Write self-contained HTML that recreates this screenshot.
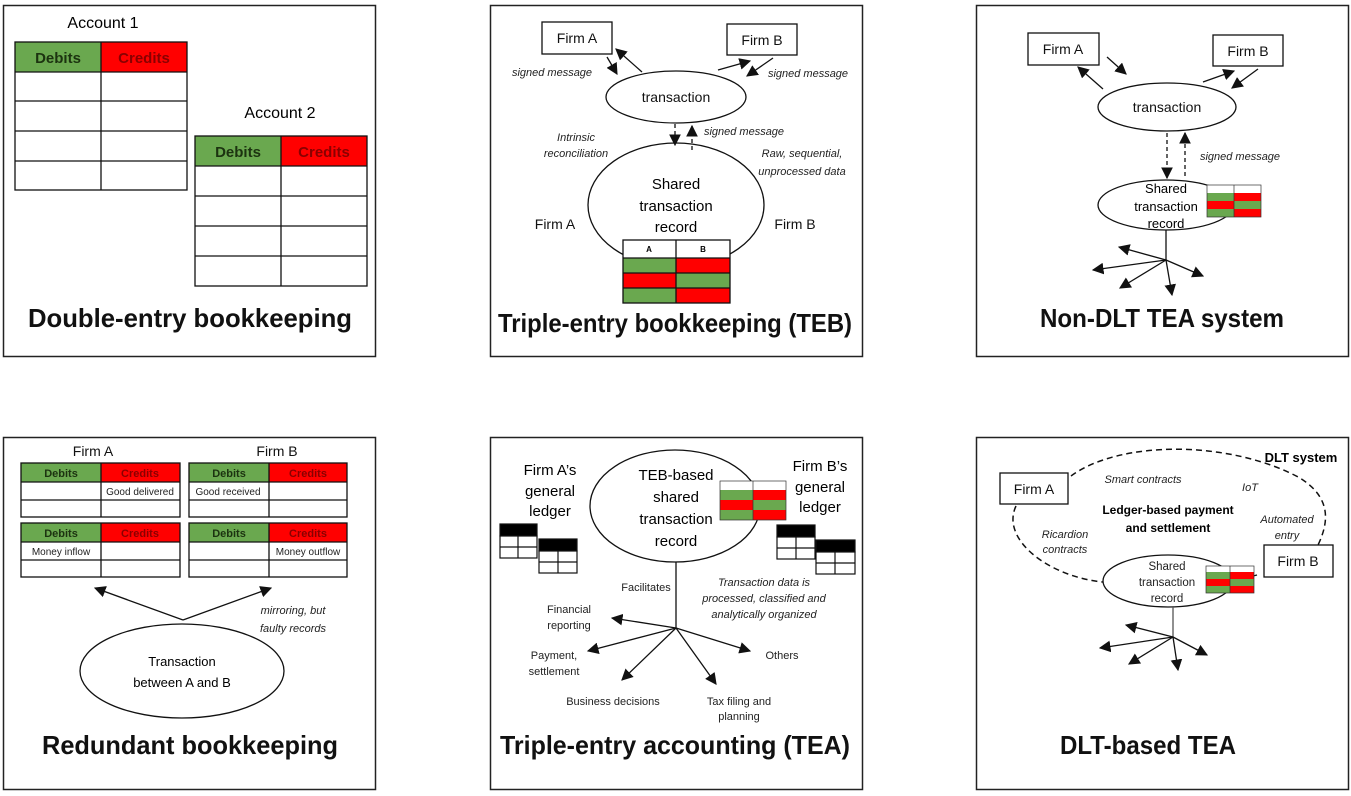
<!DOCTYPE html>
<html><head><meta charset="utf-8"><style>
html,body{margin:0;padding:0;background:#fff;}
svg{display:block;font-family:"Liberation Sans",sans-serif;}
.t{font-size:14px;fill:#111;}
.i{font-size:11px;font-style:italic;fill:#222;}
.s{font-size:11px;fill:#222;}
.h{font-size:26px;font-weight:bold;fill:#111;}
.ln{stroke:#111;stroke-width:1.3;fill:none;}
</style></head><body>
<svg width="1351" height="796" viewBox="0 0 1351 796" xmlns="http://www.w3.org/2000/svg">
<defs>
<marker id="a" viewBox="0 0 10 10" refX="9" refY="5" markerWidth="9" markerHeight="9" orient="auto"><path d="M0,0L10,5L0,10z" fill="#111"/></marker>
</defs>
<g fill="none" stroke="#222" stroke-width="1.5">
<rect x="3.5" y="5.5" width="372" height="351"/>
<rect x="490.5" y="5.5" width="372" height="351"/>
<rect x="976.5" y="5.5" width="372" height="351"/>
<rect x="3.5" y="437.5" width="372" height="352"/>
<rect x="490.5" y="437.5" width="372" height="352"/>
<rect x="976.5" y="437.5" width="372" height="352"/>
</g>

<!-- PANEL 1 -->
<text x="103" y="28" text-anchor="middle" style="font-size:16px">Account 1</text>
<rect x="15" y="42" width="86" height="30" fill="#6aa84f"/><rect x="101" y="42" width="86" height="30" fill="#ff0000"/>
<text x="58" y="63" text-anchor="middle" style="font-size:15px;font-weight:bold;fill:#1c3310">Debits</text>
<text x="144" y="63" text-anchor="middle" style="font-size:15px;font-weight:bold;fill:#8a0000">Credits</text>
<g class="ln"><rect x="15" y="42" width="172" height="148"/><path d="M101 42V190M15 72H187M15 101H187M15 131H187M15 161H187"/></g>
<text x="280" y="118" text-anchor="middle" style="font-size:16px">Account 2</text>
<rect x="195" y="136" width="86" height="30" fill="#6aa84f"/><rect x="281" y="136" width="86" height="30" fill="#ff0000"/>
<text x="238" y="157" text-anchor="middle" style="font-size:15px;font-weight:bold;fill:#1c3310">Debits</text>
<text x="324" y="157" text-anchor="middle" style="font-size:15px;font-weight:bold;fill:#8a0000">Credits</text>
<g class="ln"><rect x="195" y="136" width="172" height="150"/><path d="M281 136V286M195 166H367M195 196H367M195 226H367M195 256H367"/></g>
<text x="28" y="327" class="h" textLength="324" lengthAdjust="spacingAndGlyphs">Double-entry bookkeeping</text>

<!-- PANEL 2 -->
<rect x="542" y="22" width="70" height="32" class="ln"/><text x="577" y="43" text-anchor="middle" class="t">Firm A</text>
<rect x="727" y="24" width="70" height="31" class="ln"/><text x="762" y="45" text-anchor="middle" class="t">Firm B</text>
<text x="552" y="76" text-anchor="middle" class="i">signed message</text>
<text x="808" y="77" text-anchor="middle" class="i">signed message</text>
<g class="ln" marker-end="url(#a)">
<path d="M642 72L616 49"/><path d="M607 57L617 74"/>
<path d="M718 70L750 61"/><path d="M773 58L747 76"/>
</g>
<ellipse cx="676" cy="97" rx="70" ry="26" class="ln"/><text x="676" y="102" text-anchor="middle" class="t">transaction</text>
<g class="ln" stroke-dasharray="4,3"><path d="M675 124V145" marker-end="url(#a)"/><path d="M692 150V126" marker-end="url(#a)"/></g>
<text x="744" y="135" text-anchor="middle" class="i">signed message</text>
<text x="576" y="141" text-anchor="middle" class="i">Intrinsic</text>
<text x="576" y="157" text-anchor="middle" class="i">reconciliation</text>
<text x="802" y="157" text-anchor="middle" class="i">Raw, sequential,</text>
<text x="802" y="175" text-anchor="middle" class="i">unprocessed data</text>
<ellipse cx="676" cy="205" rx="88" ry="62" class="ln"/>
<text x="676" y="189" text-anchor="middle" style="font-size:15px">Shared</text>
<text x="676" y="211" text-anchor="middle" style="font-size:15px">transaction</text>
<text x="676" y="232" text-anchor="middle" style="font-size:15px">record</text>
<text x="555" y="229" text-anchor="middle" class="t">Firm A</text>
<text x="795" y="229" text-anchor="middle" class="t">Firm B</text>
<rect x="623" y="240" width="107" height="18" fill="#fff"/>
<rect x="623" y="258" width="53" height="15" fill="#6aa84f"/><rect x="676" y="258" width="54" height="15" fill="#f00"/>
<rect x="623" y="273" width="53" height="15" fill="#f00"/><rect x="676" y="273" width="54" height="15" fill="#6aa84f"/>
<rect x="623" y="288" width="53" height="15" fill="#6aa84f"/><rect x="676" y="288" width="54" height="15" fill="#f00"/>
<g class="ln"><rect x="623" y="240" width="107" height="63"/><path d="M676 240V303M623 258H730M623 273H730M623 288H730"/></g>
<text x="649" y="252" text-anchor="middle" style="font-size:8px;font-weight:bold">A</text>
<text x="703" y="252" text-anchor="middle" style="font-size:8px;font-weight:bold">B</text>
<text x="498" y="332" class="h" textLength="354" lengthAdjust="spacingAndGlyphs">Triple-entry bookkeeping (TEB)</text>

<!-- PANEL 3 -->
<rect x="1028" y="33" width="71" height="32" class="ln"/><text x="1063" y="54" text-anchor="middle" class="t">Firm A</text>
<rect x="1213" y="35" width="70" height="31" class="ln"/><text x="1248" y="56" text-anchor="middle" class="t">Firm B</text>
<g class="ln" marker-end="url(#a)">
<path d="M1103 89L1078 67"/><path d="M1107 57L1126 74"/>
<path d="M1203 82L1234 71"/><path d="M1258 69L1232 88"/>
</g>
<ellipse cx="1167" cy="107" rx="69" ry="24" class="ln"/><text x="1167" y="112" text-anchor="middle" class="t">transaction</text>
<g class="ln" stroke-dasharray="4,3"><path d="M1167 133V178" marker-end="url(#a)"/><path d="M1185 176V133" marker-end="url(#a)"/></g>
<text x="1240" y="160" text-anchor="middle" class="i">signed message</text>
<ellipse cx="1166" cy="205" rx="68" ry="25" class="ln"/>
<text x="1166" y="193" text-anchor="middle" style="font-size:13px">Shared</text>
<text x="1166" y="211" text-anchor="middle" style="font-size:13px">transaction</text>
<text x="1166" y="228" text-anchor="middle" style="font-size:13px">record</text>
<rect x="1207" y="185" width="54" height="8" fill="#fff"/>
<rect x="1207" y="193" width="27" height="8" fill="#6aa84f"/><rect x="1234" y="193" width="27" height="8" fill="#f00"/>
<rect x="1207" y="201" width="27" height="8" fill="#f00"/><rect x="1234" y="201" width="27" height="8" fill="#6aa84f"/>
<rect x="1207" y="209" width="27" height="8" fill="#6aa84f"/><rect x="1234" y="209" width="27" height="8" fill="#f00"/>
<g stroke="#333" stroke-width="0.7" fill="none"><rect x="1207" y="185" width="54" height="32"/><path d="M1234 185V217"/></g>
<path d="M1166 230V260" class="ln"/>
<g class="ln" marker-end="url(#a)">
<path d="M1166 260L1119 247"/><path d="M1166 260L1093 270"/><path d="M1166 260L1120 288"/><path d="M1166 260L1172 295"/><path d="M1166 260L1203 276"/>
</g>
<text x="1040" y="327" class="h" textLength="244" lengthAdjust="spacingAndGlyphs">Non-DLT TEA system</text>

<!-- PANEL 4 -->
<text x="93" y="456" text-anchor="middle" class="t">Firm A</text>
<text x="277" y="456" text-anchor="middle" class="t">Firm B</text>
<rect x="21" y="463" width="80" height="19" fill="#6aa84f"/><rect x="101" y="463" width="79" height="19" fill="#f00"/>
<rect x="189" y="463" width="80" height="19" fill="#6aa84f"/><rect x="269" y="463" width="78" height="19" fill="#f00"/>
<rect x="21" y="523" width="80" height="19" fill="#6aa84f"/><rect x="101" y="523" width="79" height="19" fill="#f00"/>
<rect x="189" y="523" width="80" height="19" fill="#6aa84f"/><rect x="269" y="523" width="78" height="19" fill="#f00"/>
<g class="ln" stroke-width="1.1">
<rect x="21" y="463" width="159" height="54"/><path d="M101 463V517M21 482H180M21 500H180"/>
<rect x="189" y="463" width="158" height="54"/><path d="M269 463V517M189 482H347M189 500H347"/>
<rect x="21" y="523" width="159" height="54"/><path d="M101 523V577M21 542H180M21 560H180"/>
<rect x="189" y="523" width="158" height="54"/><path d="M269 523V577M189 542H347M189 560H347"/>
</g>
<g style="font-size:11px;font-weight:bold" text-anchor="middle">
<text x="61" y="477" fill="#1c3310">Debits</text><text x="140" y="477" fill="#8a0000">Credits</text>
<text x="229" y="477" fill="#1c3310">Debits</text><text x="308" y="477" fill="#8a0000">Credits</text>
<text x="61" y="537" fill="#1c3310">Debits</text><text x="140" y="537" fill="#8a0000">Credits</text>
<text x="229" y="537" fill="#1c3310">Debits</text><text x="308" y="537" fill="#8a0000">Credits</text>
</g>
<text x="140" y="495" text-anchor="middle" class="s" style="font-size:10px">Good delivered</text>
<text x="228" y="495" text-anchor="middle" class="s" style="font-size:10px">Good received</text>
<text x="61" y="555" text-anchor="middle" class="s" style="font-size:10px">Money inflow</text>
<text x="308" y="555" text-anchor="middle" class="s" style="font-size:10px">Money outflow</text>
<g class="ln" marker-end="url(#a)"><path d="M183 620L95 588"/><path d="M183 620L271 588"/></g>
<text x="293" y="614" text-anchor="middle" class="i">mirroring, but</text>
<text x="293" y="632" text-anchor="middle" class="i">faulty records</text>
<ellipse cx="182" cy="671" rx="102" ry="47" class="ln"/>
<text x="182" y="666" text-anchor="middle" style="font-size:13px">Transaction</text>
<text x="182" y="687" text-anchor="middle" style="font-size:13px">between A and B</text>
<text x="42" y="754" class="h" textLength="296" lengthAdjust="spacingAndGlyphs">Redundant bookkeeping</text>

<!-- PANEL 5 -->
<g text-anchor="middle" style="font-size:15px">
<text x="550" y="475">Firm A’s</text><text x="550" y="496">general</text><text x="550" y="516">ledger</text>
<text x="820" y="471">Firm B’s</text><text x="820" y="492">general</text><text x="820" y="512">ledger</text>
</g>
<ellipse cx="675" cy="506" rx="85" ry="56" class="ln"/>
<g text-anchor="middle" style="font-size:15px">
<text x="676" y="480">TEB-based</text><text x="676" y="502">shared</text><text x="676" y="524">transaction</text><text x="676" y="546">record</text>
</g>
<rect x="720" y="481" width="66" height="9" fill="#fff"/>
<rect x="720" y="490" width="33" height="10" fill="#6aa84f"/><rect x="753" y="490" width="33" height="10" fill="#f00"/>
<rect x="720" y="500" width="33" height="10" fill="#f00"/><rect x="753" y="500" width="33" height="10" fill="#6aa84f"/>
<rect x="720" y="510" width="33" height="10" fill="#6aa84f"/><rect x="753" y="510" width="33" height="10" fill="#f00"/>
<g stroke="#333" stroke-width="0.7" fill="none"><rect x="720" y="481" width="66" height="39"/><path d="M753 481V520"/></g>
<g stroke="#111" stroke-width="1.2">
<rect x="500" y="524" width="37" height="12" fill="#000"/><rect x="500" y="536" width="37" height="22" fill="#fff"/><path d="M518 536V558M500 547H537"/>
<rect x="539" y="539" width="38" height="12" fill="#000"/><rect x="539" y="551" width="38" height="22" fill="#fff"/><path d="M558 551V573M539 562H577"/>
<rect x="777" y="525" width="38" height="12" fill="#000"/><rect x="777" y="537" width="38" height="22" fill="#fff"/><path d="M796 537V559M777 548H815"/>
<rect x="816" y="540" width="39" height="12" fill="#000"/><rect x="816" y="552" width="39" height="22" fill="#fff"/><path d="M835 552V574M816 563H855"/>
</g>
<path d="M676 562V628" class="ln"/>
<g class="ln" marker-end="url(#a)">
<path d="M676 628L612 618"/><path d="M676 628L588 651"/><path d="M676 628L622 680"/><path d="M676 628L750 651"/><path d="M676 628L716 684"/>
</g>
<g class="s" text-anchor="middle">
<text x="646" y="591">Facilitates</text>
<text x="569" y="613">Financial</text><text x="569" y="629">reporting</text>
<text x="554" y="659">Payment,</text><text x="554" y="675">settlement</text>
<text x="613" y="705">Business decisions</text>
<text x="739" y="705">Tax filing and</text><text x="739" y="720">planning</text>
<text x="782" y="659">Others</text>
</g>
<g class="i" text-anchor="middle">
<text x="764" y="586">Transaction data is</text><text x="764" y="602">processed, classified and</text><text x="764" y="618">analytically organized</text>
</g>
<text x="500" y="754" class="h" textLength="350" lengthAdjust="spacingAndGlyphs">Triple-entry accounting (TEA)</text>

<!-- PANEL 6 -->
<path d="M1071 476 C1120 440 1230 440 1300 478 C1330 497 1330 520 1318 545 M1016 506 C1000 540 1050 577 1103 582" fill="none" stroke="#111" stroke-width="1.5" stroke-dasharray="6,4"/>
<path d="M1257 575L1245 578" stroke="#111" stroke-width="1.2"/>
<rect x="1000" y="473" width="68" height="31" class="ln" fill="#fff"/><text x="1034" y="494" text-anchor="middle" class="t">Firm A</text>
<rect x="1264" y="545" width="69" height="32" class="ln" fill="#fff"/><text x="1298" y="566" text-anchor="middle" class="t">Firm B</text>
<text x="1301" y="462" text-anchor="middle" style="font-size:13px;font-weight:bold">DLT system</text>
<text x="1143" y="483" text-anchor="middle" class="i">Smart contracts</text>
<text x="1250" y="491" text-anchor="middle" class="i">IoT</text>
<text x="1287" y="523" text-anchor="middle" class="i">Automated</text>
<text x="1287" y="539" text-anchor="middle" class="i">entry</text>
<text x="1065" y="538" text-anchor="middle" class="i">Ricardion</text>
<text x="1065" y="553" text-anchor="middle" class="i">contracts</text>
<text x="1168" y="514" text-anchor="middle" style="font-size:12px;font-weight:bold">Ledger-based payment</text>
<text x="1168" y="532" text-anchor="middle" style="font-size:12px;font-weight:bold">and settlement</text>
<ellipse cx="1168" cy="581" rx="65" ry="26" class="ln" fill="#fff"/>
<g text-anchor="middle" class="s" style="font-size:11.5px">
<text x="1167" y="570">Shared</text><text x="1167" y="586">transaction</text><text x="1167" y="602">record</text>
</g>
<rect x="1206" y="566" width="48" height="6" fill="#fff"/>
<rect x="1206" y="572" width="24" height="7" fill="#6aa84f"/><rect x="1230" y="572" width="24" height="7" fill="#f00"/>
<rect x="1206" y="579" width="24" height="7" fill="#f00"/><rect x="1230" y="579" width="24" height="7" fill="#6aa84f"/>
<rect x="1206" y="586" width="24" height="7" fill="#6aa84f"/><rect x="1230" y="586" width="24" height="7" fill="#f00"/>
<g stroke="#333" stroke-width="0.7" fill="none"><rect x="1206" y="566" width="48" height="27"/><path d="M1230 566V593"/></g>
<path d="M1173 607V637" stroke="#555" stroke-width="1.3"/>
<g class="ln" marker-end="url(#a)">
<path d="M1173 637L1126 625"/><path d="M1173 637L1100 648"/><path d="M1173 637L1129 664"/><path d="M1173 637L1178 670"/><path d="M1173 637L1207 655"/>
</g>
<text x="1060" y="754" class="h" textLength="176" lengthAdjust="spacingAndGlyphs">DLT-based TEA</text>
</svg>
</body></html>
